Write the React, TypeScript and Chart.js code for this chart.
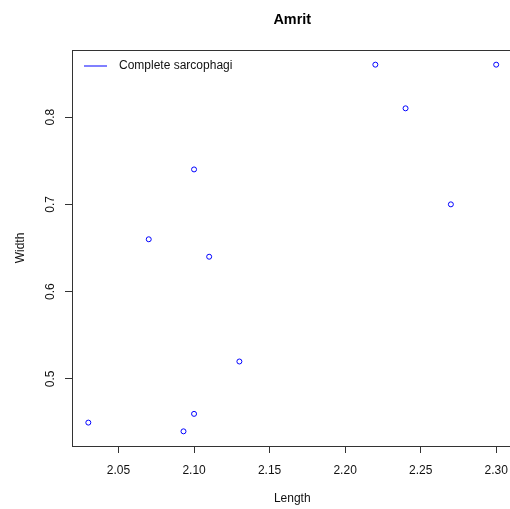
import { useEffect, useRef } from "react";
import { Chart, registerables } from "chart.js";

Chart.register(...registerables);

const titleText = "Amrit";
const xTitle = "Length";
const yTitle = "Width";
const seriesLabel = "Complete sarcophagi";

const lengths = [2.03, 2.07, 2.093, 2.1, 2.1, 2.11, 2.13, 2.22, 2.24, 2.27, 2.3];
const widths = [0.45, 0.66, 0.44, 0.74, 0.46, 0.64, 0.52, 0.86, 0.81, 0.7, 0.86];

const xTicks = [2.05, 2.1, 2.15, 2.2, 2.25, 2.3];
const xTickLabels = ["2.05", "2.10", "2.15", "2.20", "2.25", "2.30"];
const yTicks = [0.5, 0.6, 0.7, 0.8];
const yTickLabels = ["0.5", "0.6", "0.7", "0.8"];

// R-style 4% range extension
const xMin = 2.0192;
const xMax = 2.3108;
const yMin = 0.4232;
const yMax = 0.8768;

const FONT = "'Liberation Sans', Arial, sans-serif";

export default function App() {
  const ref = useRef<HTMLCanvasElement | null>(null);

  useEffect(() => {
    document.body.style.margin = "0";
    const canvas = ref.current;
    if (!canvas) return;

    const legendIcon = document.createElement("canvas");
    legendIcon.width = 31;
    legendIcon.height = 3;
    const ictx = legendIcon.getContext("2d")!;
    ictx.strokeStyle = "#0000FF";
    ictx.lineWidth = 1;
    ictx.beginPath();
    ictx.moveTo(2, 1.5);
    ictx.lineTo(25, 1.5);
    ictx.stroke();

    const framePlugin = {
      id: "frame",
      afterLayout(chart: any) {
        const lg = chart.legend;
        const ca = chart.chartArea;
        if (lg) {
          const h = lg.height;
          const w = lg.width;
          lg.left = ca.left;
          lg.top = ca.top;
          lg.right = ca.left + w;
          lg.bottom = ca.top + h;
          if (lg.adjustHitBoxes) lg.adjustHitBoxes();
        }
      },
      beforeDatasetsDraw(chart: any) {
        const { ctx, chartArea } = chart;
        ctx.save();
        ctx.strokeStyle = "#333";
        ctx.lineWidth = 1;
        ctx.strokeRect(
          Math.round(chartArea.left) + 0.5,
          Math.round(chartArea.top) + 0.5,
          Math.round(chartArea.right - chartArea.left),
          Math.round(chartArea.bottom - chartArea.top)
        );
        ctx.restore();
      },
    };

    const titlePlugin = {
      id: "rtitle",
      afterDraw(chart: any) {
        const { ctx, chartArea } = chart;
        ctx.save();
        ctx.font = `bold 14.4px ${FONT}`;
        ctx.fillStyle = "#000";
        ctx.textAlign = "center";
        ctx.textBaseline = "middle";
        ctx.fillText(titleText, (chartArea.left + chartArea.right) / 2, 20);
        ctx.restore();
      },
    };

    const chart = new Chart(canvas, {
      type: "scatter",
      data: {
        datasets: [
          {
            label: seriesLabel,
            data: lengths.map((x, i) => ({ x, y: widths[i] })),
            pointStyle: "circle",
            pointRadius: 2.5,
            pointHoverRadius: 2.5,
            borderColor: "#0000FF",
            backgroundColor: "rgba(0,0,0,0)",
            pointBorderWidth: 1,
          },
        ],
      },
      options: {
        animation: false,
        responsive: false,
        maintainAspectRatio: false,
        layout: { padding: { top: 50, right: 2, left: 0, bottom: 0 } },
        plugins: {
          tooltip: { enabled: false },
          title: { display: false },
          legend: {
            display: true,
            position: "chartArea" as any,
            align: "start",
            labels: {
              usePointStyle: true,
              pointStyle: legendIcon as any,
              pointStyleWidth: 31,
              boxHeight: 3,
              padding: 10,
              color: "#111",
              font: { family: FONT, size: 12 },
            },
          },
        },
        scales: {
          x: {
            type: "linear",
            position: "bottom",
            min: xMin,
            max: xMax,
            afterFit(scale: any) {
              scale.height = 63;
              scale.paddingLeft = 0;
              scale.paddingRight = 0;
            },
            afterBuildTicks(scale: any) {
              scale.ticks = xTicks.map((v) => ({ value: v }));
            },
            ticks: {
              autoSkip: false,
              maxRotation: 0,
              minRotation: 0,
              padding: 10,
              color: "#111",
              font: { family: FONT, size: 12 },
              callback: (v: any) => {
                const i = xTicks.findIndex((t) => Math.abs(t - Number(v)) < 1e-9);
                return i >= 0 ? xTickLabels[i] : "";
              },
            },
            grid: {
              drawOnChartArea: false,
              drawTicks: true,
              tickLength: 7,
              tickColor: "#333",
              tickWidth: 1,
            },
            border: { display: false },
            title: {
              display: true,
              text: xTitle,
              color: "#111",
              font: { family: FONT, size: 12 },
              padding: { top: 0, bottom: 3 },
            },
          },
          y: {
            type: "linear",
            position: "left",
            min: yMin,
            max: yMax,
            afterFit(scale: any) {
              scale.width = 72;
              scale.paddingTop = 0;
              scale.paddingBottom = 0;
            },
            afterBuildTicks(scale: any) {
              scale.ticks = yTicks.map((v) => ({ value: v }));
            },
            ticks: {
              autoSkip: false,
              minRotation: 90,
              maxRotation: 90,
              crossAlign: "center",
              padding: 6,
              color: "#111",
              font: { family: FONT, size: 12 },
              callback: (v: any) => {
                const i = yTicks.findIndex((t) => Math.abs(t - Number(v)) < 1e-9);
                return i >= 0 ? yTickLabels[i] : "";
              },
            },
            grid: {
              drawOnChartArea: false,
              drawTicks: true,
              tickLength: 7,
              tickColor: "#333",
              tickWidth: 1,
            },
            border: { display: false },
            title: {
              display: true,
              text: yTitle,
              color: "#111",
              font: { family: FONT, size: 12 },
              padding: { top: 13, bottom: 0 },
            },
          },
        },
      },
      plugins: [framePlugin, titlePlugin],
    });

    return () => chart.destroy();
  }, []);

  return (
    <div style={{ width: 510, height: 509, overflow: "hidden", position: "relative" }}>
      <canvas ref={ref} width={516} height={509} style={{ width: 516, height: 509, display: "block" }} />
    </div>
  );
}
